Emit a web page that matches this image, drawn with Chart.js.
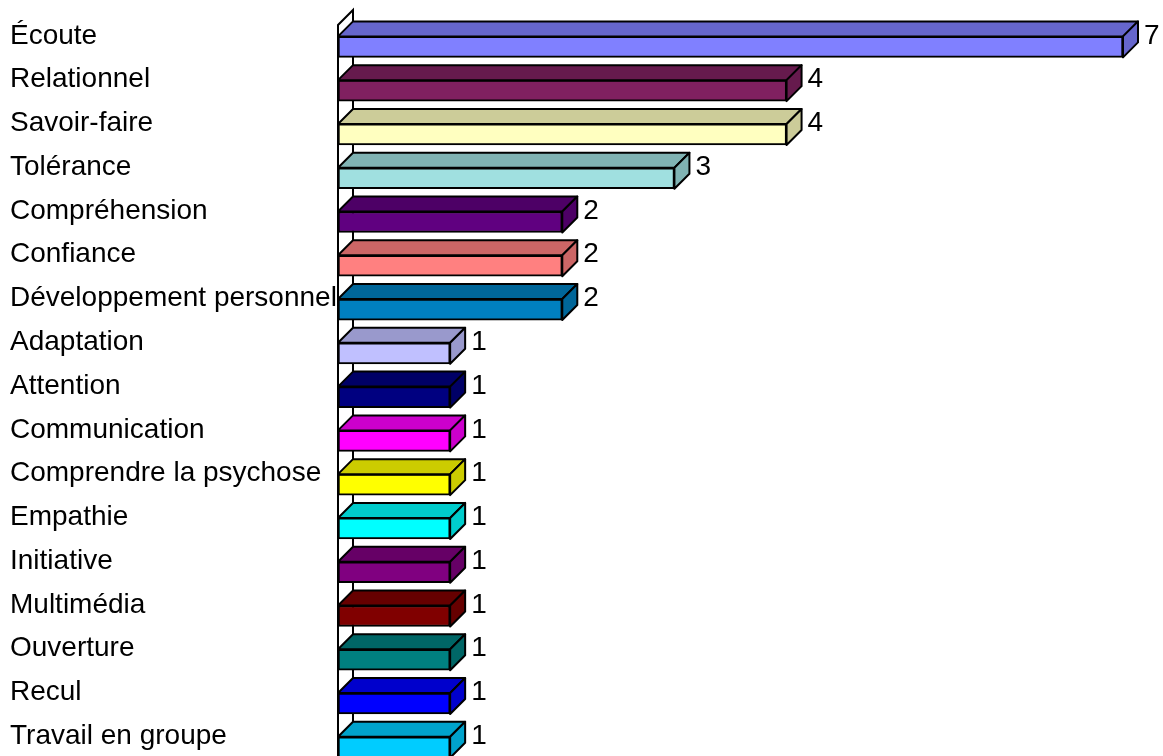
<!DOCTYPE html>
<html>
<head>
<meta charset="utf-8">
<script src="https://cdn.jsdelivr.net/npm/chart.js@4/dist/chart.umd.min.js"></script>
<style>
  html, body { margin: 0; padding: 0; background: #fff; overflow: hidden; }
  #wrap { width: 1163px; height: 786px; }
</style>
</head>
<body>
<div id="wrap"><canvas id="bar-chart"></canvas></div>
<script>
// categories and values
let categories = ['Écoute', 'Relationnel', 'Savoir-faire', 'Tolérance', 'Compréhension', 'Confiance',
    'Développement personnel', 'Adaptation', 'Attention', 'Communication', 'Comprendre la psychose',
    'Empathie', 'Initiative', 'Multimédia', 'Ouverture', 'Recul', 'Travail en groupe'];
let counts = [7, 4, 4, 3, 2, 2, 2, 1, 1, 1, 1, 1, 1, 1, 1, 1, 1];
// front face colours, and the darker top/side colours
let frontColors = ['#8080FF', '#802060', '#FFFFC0', '#A0E0E0', '#600080', '#FF8080', '#0080C0', '#C0C0FF',
    '#000080', '#FF00FF', '#FFFF00', '#00FFFF', '#800080', '#800000', '#008080', '#0000FF', '#00CCFF'];
let sideColors = ['#6666CC', '#661A4D', '#CCCC99', '#80B3B3', '#4D0066', '#CC6666', '#006699', '#9999CC',
    '#000066', '#CC00CC', '#CCCC00', '#00CCCC', '#660066', '#660000', '#006666', '#0000CC', '#00A3CC'];

const depth = 15;
const labelShift = -11;
const fontSpec = { family: '"Liberation Sans", Arial, sans-serif', size: 28 };

// back wall behind the bars
const wallPlugin = {
    id: 'wall',
    beforeDatasetsDraw(chart) {
        const ctx = chart.ctx;
        const area = chart.chartArea;
        const x0 = area.left;
        const top = 25;
        const bottom = chart.height + 20;
        ctx.save();
        ctx.fillStyle = '#fff';
        ctx.strokeStyle = '#000';
        ctx.lineWidth = 2;
        ctx.beginPath();
        ctx.moveTo(x0, top);
        ctx.lineTo(x0 + depth, top - depth);
        ctx.lineTo(x0 + depth, bottom);
        ctx.lineTo(x0, bottom);
        ctx.closePath();
        ctx.fill();
        ctx.stroke();
        ctx.restore();
    }
};

// top and side faces plus value labels
const boxPlugin = {
    id: 'boxes',
    afterDatasetsDraw(chart) {
        const ctx = chart.ctx;
        const meta = chart.getDatasetMeta(0);
        ctx.save();
        ctx.strokeStyle = '#000';
        ctx.lineWidth = 2;
        ctx.lineJoin = 'round';
        meta.data.forEach((bar, i) => {
            const x0 = bar.base;
            const x1 = bar.x;
            const yTop = bar.y - bar.height / 2;
            const yBot = bar.y + bar.height / 2;
            ctx.fillStyle = sideColors[i];
            // top face
            ctx.beginPath();
            ctx.moveTo(x0, yTop);
            ctx.lineTo(x0 + depth, yTop - depth);
            ctx.lineTo(x1 + depth, yTop - depth);
            ctx.lineTo(x1, yTop);
            ctx.closePath();
            ctx.fill();
            ctx.stroke();
            // side face
            ctx.beginPath();
            ctx.moveTo(x1, yTop);
            ctx.lineTo(x1 + depth, yTop - depth);
            ctx.lineTo(x1 + depth, yBot - depth);
            ctx.lineTo(x1, yBot);
            ctx.closePath();
            ctx.fill();
            ctx.stroke();
            // value
            ctx.fillStyle = '#000';
            ctx.font = fontSpec.size + 'px ' + fontSpec.family;
            ctx.textAlign = 'left';
            ctx.textBaseline = 'middle';
            ctx.fillText(String(counts[i]), x1 + depth + 6, bar.y + labelShift);
        });
        ctx.restore();
    }
};

const ctx = document.getElementById('bar-chart').getContext('2d');
const barChart = new Chart(ctx, {
    type: 'bar',
    data: {
        labels: categories,
        datasets: [{
            data: counts,
            backgroundColor: frontColors,
            borderColor: '#000',
            borderWidth: 2,
            borderSkipped: false,
            barThickness: 21,
            clip: false
        }]
    },
    options: {
        indexAxis: 'y',
        responsive: true,
        maintainAspectRatio: false,
        animation: false,
        layout: { padding: { left: 10, right: 40, top: 25, bottom: 11 } },
        plugins: { legend: { display: false }, tooltip: { enabled: false } },
        scales: {
            x: { display: false, min: 0, max: 7 },
            y: {
                grid: { display: false, drawTicks: false },
                border: { display: false },
                ticks: {
                    crossAlign: 'far',
                    labelOffset: labelShift,
                    padding: 0,
                    color: '#000',
                    font: fontSpec
                },
                afterFit(scale) { scale.width = 328; }
            }
        }
    },
    plugins: [wallPlugin, boxPlugin]
});
</script>
</body>
</html>
